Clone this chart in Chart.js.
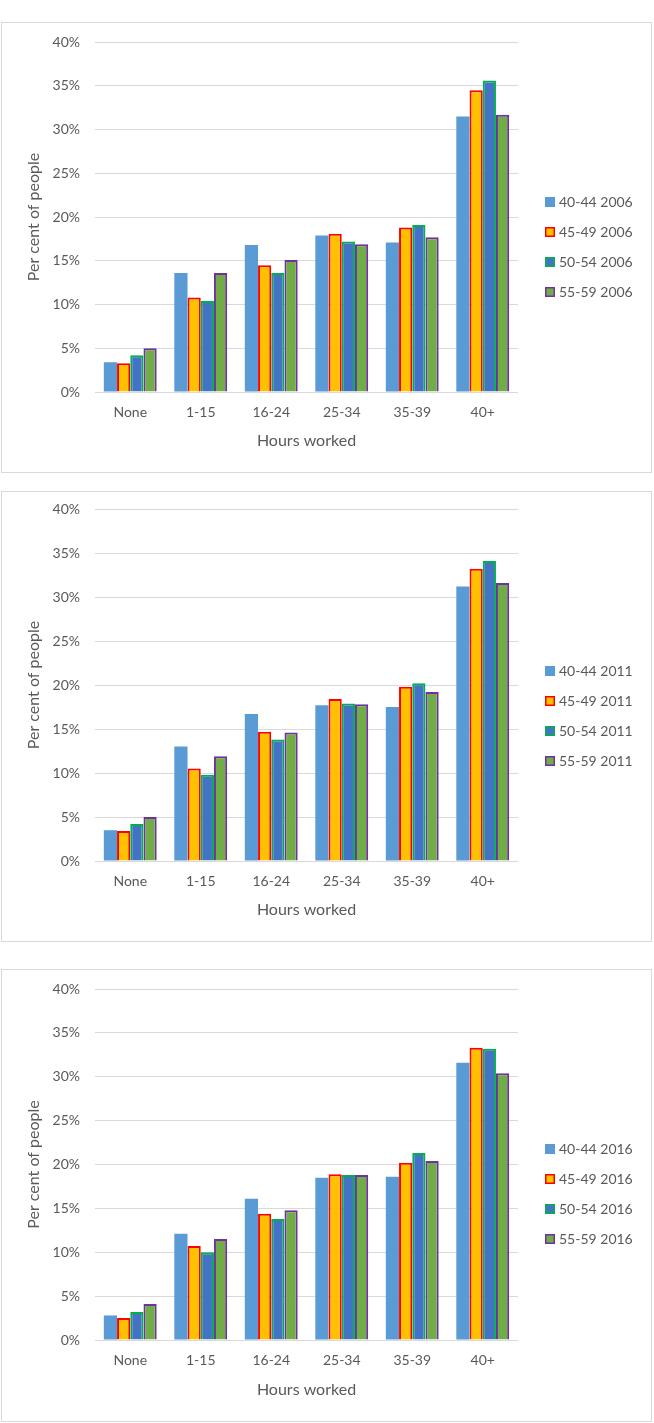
<!DOCTYPE html>
<html>
<head>
<meta charset="utf-8">
<title>Hours worked by age group</title>
<script src="https://cdn.jsdelivr.net/npm/chart.js@4.4.1/dist/chart.umd.min.js"></script>
<style>
  body { margin: 0; background: #fff; width: 654px; height: 1423px; position: relative; }
  .panel { position: absolute; left: 1px; width: 651px; box-sizing: border-box; border: 1px solid #d9d9d9; background: #fff; }
  .panel canvas { display: block; }
</style>
</head>
<body>
<div class="panel" style="top:22px;height:451px"><canvas id="chart-2006" width="649" height="449"></canvas></div>
<div class="panel" style="top:491px;height:451px"><canvas id="chart-2011" width="649" height="449"></canvas></div>
<div class="panel" style="top:969px;height:453px"><canvas id="chart-2016" width="649" height="451"></canvas></div>

<script>
// Hours worked categories (x axis)
const categories = ['None', '1-15', '16-24', '25-34', '35-39', '40+'];
const ageGroups = ['40-44', '45-49', '50-54', '55-59'];
const yTickValues = [0, 5, 10, 15, 20, 25, 30, 35, 40];

// Per cent of people, 2006
const age4044_2006 = [3.4, 13.6, 16.8, 17.9, 17.1, 31.5];
const age4549_2006 = [3.3, 10.8, 14.5, 18.1, 18.8, 34.5];
const age5054_2006 = [4.2, 10.4, 13.6, 17.2, 19.1, 35.6];
const age5559_2006 = [5.0, 13.6, 15.1, 16.9, 17.7, 31.7];

// Per cent of people, 2011
const age4044_2011 = [3.5, 13.0, 16.7, 17.7, 17.5, 31.2];
const age4549_2011 = [3.4, 10.5, 14.7, 18.4, 19.8, 33.2];
const age5054_2011 = [4.2, 9.8, 13.8, 17.9, 20.2, 34.1];
const age5559_2011 = [5.0, 11.9, 14.6, 17.8, 19.2, 31.6];

// Per cent of people, 2016
const age4044_2016 = [2.8, 12.1, 16.1, 18.5, 18.6, 31.6];
const age4549_2016 = [2.5, 10.7, 14.4, 18.9, 20.2, 33.3];
const age5054_2016 = [3.2, 10.0, 13.8, 18.8, 21.3, 33.2];
const age5559_2016 = [4.1, 11.5, 14.8, 18.8, 20.4, 30.4];

// Fill / outline per age group
const fills = ['#5b9bd5', '#ffc000', '#4472c4', '#70ad47'];
const outlines = [null, '#ff0000', '#00b050', '#7030a0'];

const TEXT = '#595959';
const GRID = '#d9d9d9';

/**
 * Legend drawn to the right of the plot, one row per dataset
 */
const sideLegend = {
  id: 'sideLegend',
  afterDraw(chart, args, opts) {
    const ctx = chart.ctx;
    const sets = chart.data.datasets;
    let y = opts.centerY - (sets.length - 1) * opts.step / 2;
    ctx.save();
    ctx.font = '14px Lato';
    ctx.textBaseline = 'middle';
    ctx.textAlign = 'left';
    sets.forEach(ds => {
      ctx.fillStyle = ds.backgroundColor;
      ctx.fillRect(opts.x, y - 5, 10, 10);
      if (ds.borderWidth) {
        ctx.strokeStyle = ds.borderColor;
        ctx.lineWidth = 1.5;
        ctx.strokeRect(opts.x + 0.75, y - 4.25, 8.5, 8.5);
      }
      ctx.fillStyle = TEXT;
      ctx.fillText(ds.label, opts.x + 14, y + 0.5);
      y += opts.step;
    });
    ctx.restore();
  }
};

/**
 * Build one clustered bar chart
 */
function renderYear(canvasId, year, series, plotTop, plotBottom) {
  const canvas = document.getElementById(canvasId);
  const datasets = series.map((values, i) => ({
    label: ageGroups[i] + ' ' + year,
    data: values,
    backgroundColor: fills[i],
    borderColor: outlines[i] || fills[i],
    borderWidth: outlines[i] ? 2 : 0,
    categoryPercentage: 0.75,
    barPercentage: 1.0
  }));

  return new Chart(canvas, {
    type: 'bar',
    data: { labels: categories, datasets: datasets },
    plugins: [sideLegend],
    options: {
      responsive: false,
      animation: false,
      layout: { padding: { top: plotTop, left: 0, right: 133, bottom: 0 } },
      plugins: {
        legend: { display: false },
        tooltip: { enabled: false },
        sideLegend: { x: 543, step: 30, centerY: 224 }
      },
      scales: {
        x: {
          grid: { display: false, drawTicks: false },
          border: { display: false },
          ticks: { color: TEXT, font: { size: 14 }, padding: 12 },
          title: {
            display: true,
            text: 'Hours worked',
            color: TEXT,
            font: { size: 16 },
            padding: { top: 0, bottom: 22 }
          },
          afterFit: scale => { scale.height = canvas.height - plotBottom; }
        },
        y: {
          min: 0,
          max: 40,
          grid: { color: GRID, lineWidth: 1, drawTicks: false },
          border: { display: false },
          afterBuildTicks: scale => { scale.ticks = yTickValues.map(v => ({ value: v })); },
          ticks: {
            color: TEXT,
            font: { size: 14 },
            padding: 15,
            callback: value => value + '%'
          },
          title: {
            display: true,
            text: 'Per cent of people',
            color: TEXT,
            font: { size: 16 },
            padding: { top: 22, bottom: 0 }
          },
          // fixed width, and keep tick padding from pushing the plot down
          afterFit: scale => {
            scale.width = 93;
            scale.paddingTop = 0;
            scale.paddingBottom = 0;
          }
        }
      }
    }
  });
}

function drawAll() {
  Chart.defaults.font.family = 'Lato';
  Chart.defaults.color = TEXT;
  renderYear('chart-2006', 2006, [age4044_2006, age4549_2006, age5054_2006, age5559_2006], 19, 369);
  renderYear('chart-2011', 2011, [age4044_2011, age4549_2011, age5054_2011, age5559_2011], 17, 369);
  renderYear('chart-2016', 2016, [age4044_2016, age4549_2016, age5054_2016, age5559_2016], 19, 370);
}

if (document.fonts && document.fonts.load) {
  Promise.all([document.fonts.load('14px Lato'), document.fonts.load('16px Lato')])
    .then(drawAll, drawAll);
} else {
  drawAll();
}
</script>
</body>
</html>
